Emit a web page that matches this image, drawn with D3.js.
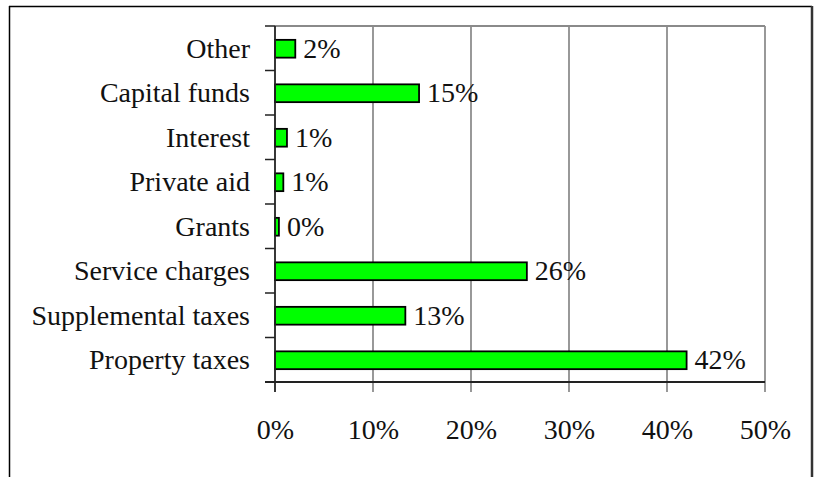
<!DOCTYPE html>
<html>
<head>
<meta charset="utf-8">
<script src="https://cdn.jsdelivr.net/npm/d3@7"></script>
<style>
  html, body { margin: 0; padding: 0; background: #fff; }
  svg { display: block; }
  text { font-family: "Liberation Serif", "Times New Roman", serif; fill: #111; }
</style>
</head>
<body>
<svg id="chart" width="814" height="477"></svg>
<script>
// Revenue sources, listed top to bottom
const categories = ["Other", "Capital funds", "Interest", "Private aid", "Grants",
                    "Service charges", "Supplemental taxes", "Property taxes"];
// Share of total revenue (fraction)
const shares = [0.0207, 0.147, 0.0122, 0.0085, 0.004, 0.257, 0.133, 0.420];
// Horizontal axis ticks
const xTicks = [0, 0.1, 0.2, 0.3, 0.4, 0.5];

const svg = d3.select("#chart");
const W = 814, H = 477;
const plot = { left: 275, right: 765, top: 26, bottom: 382 };
const pct = d3.format(".0%");

const x = d3.scaleLinear().domain([0, 0.5]).range([plot.left, plot.right]);
const y = d3.scaleBand().domain(categories).range([plot.top, plot.bottom])
  .paddingInner(0.6).paddingOuter(0.3);

// Outer frame (left, top, right edges)
svg.append("line").attr("x1", 9.5).attr("x2", 9.5).attr("y1", 6).attr("y2", H)
  .attr("stroke", "#000").attr("stroke-width", 1.5);
svg.append("line").attr("x1", 9).attr("x2", 812).attr("y1", 6.5).attr("y2", 6.5)
  .attr("stroke", "#000").attr("stroke-width", 1.5);
svg.append("line").attr("x1", 812).attr("x2", 812).attr("y1", 6).attr("y2", H)
  .attr("stroke", "#333").attr("stroke-width", 2.5);

// Vertical gridlines, extended below the axis as tick marks
svg.append("g").selectAll("line").data(xTicks.slice(1)).join("line")
  .attr("x1", d => x(d)).attr("x2", d => x(d))
  .attr("y1", plot.top).attr("y2", plot.bottom + 10)
  .attr("stroke", "#7f7f7f").attr("stroke-width", 1.6);

// Top edge of the plot area
svg.append("line").attr("x1", plot.left).attr("x2", plot.right)
  .attr("y1", plot.top).attr("y2", plot.top)
  .attr("stroke", "#8a8a8a").attr("stroke-width", 2);

// Category tick marks on band boundaries
const boundaries = categories.map(c => y(c) - y.step() * y.paddingInner() / 2)
  .concat([plot.bottom]);
svg.append("g").selectAll("line").data(boundaries).join("line")
  .attr("x1", plot.left - 10).attr("x2", plot.left)
  .attr("y1", d => d).attr("y2", d => d)
  .attr("stroke", "#222").attr("stroke-width", 1.5);

// Bars
svg.append("g").selectAll("rect").data(categories).join("rect")
  .attr("x", x(0))
  .attr("y", c => y(c) + 0.5)
  .attr("width", (c, i) => x(shares[i]) - x(0))
  .attr("height", y.bandwidth())
  .attr("fill", "#00ff00")
  .attr("stroke", "#000").attr("stroke-width", 1.8);

// Axis lines
svg.append("line").attr("x1", plot.left).attr("x2", plot.left)
  .attr("y1", plot.top).attr("y2", plot.bottom + 10)
  .attr("stroke", "#222").attr("stroke-width", 1.8);
svg.append("line").attr("x1", plot.left - 10).attr("x2", plot.right)
  .attr("y1", plot.bottom).attr("y2", plot.bottom)
  .attr("stroke", "#222").attr("stroke-width", 1.8);

// X tick labels
const xAxis = d3.axisBottom(x).tickValues(xTicks).tickFormat(pct)
  .tickSize(10).tickPadding(27);
const gx = svg.append("g").attr("transform", `translate(0,${plot.bottom})`).call(xAxis);
gx.select(".domain").remove();
gx.selectAll(".tick line").remove();
gx.selectAll("text").style("font-size", "28px")
  .style("font-family", '"Liberation Serif", "Times New Roman", serif').attr("fill", "#111");

// Category labels
svg.append("g").selectAll("text").data(categories).join("text")
  .attr("x", plot.left - 25)
  .attr("y", c => y(c) + y.bandwidth() / 2 + 9.5)
  .attr("text-anchor", "end")
  .style("font-size", "28px")
  .text(c => c);

// Value labels
svg.append("g").selectAll("text").data(categories).join("text")
  .attr("x", (c, i) => x(shares[i]) + 8)
  .attr("y", c => y(c) + y.bandwidth() / 2 + 9.5)
  .style("font-size", "28px")
  .text((c, i) => pct(shares[i]));
</script>
</body>
</html>
